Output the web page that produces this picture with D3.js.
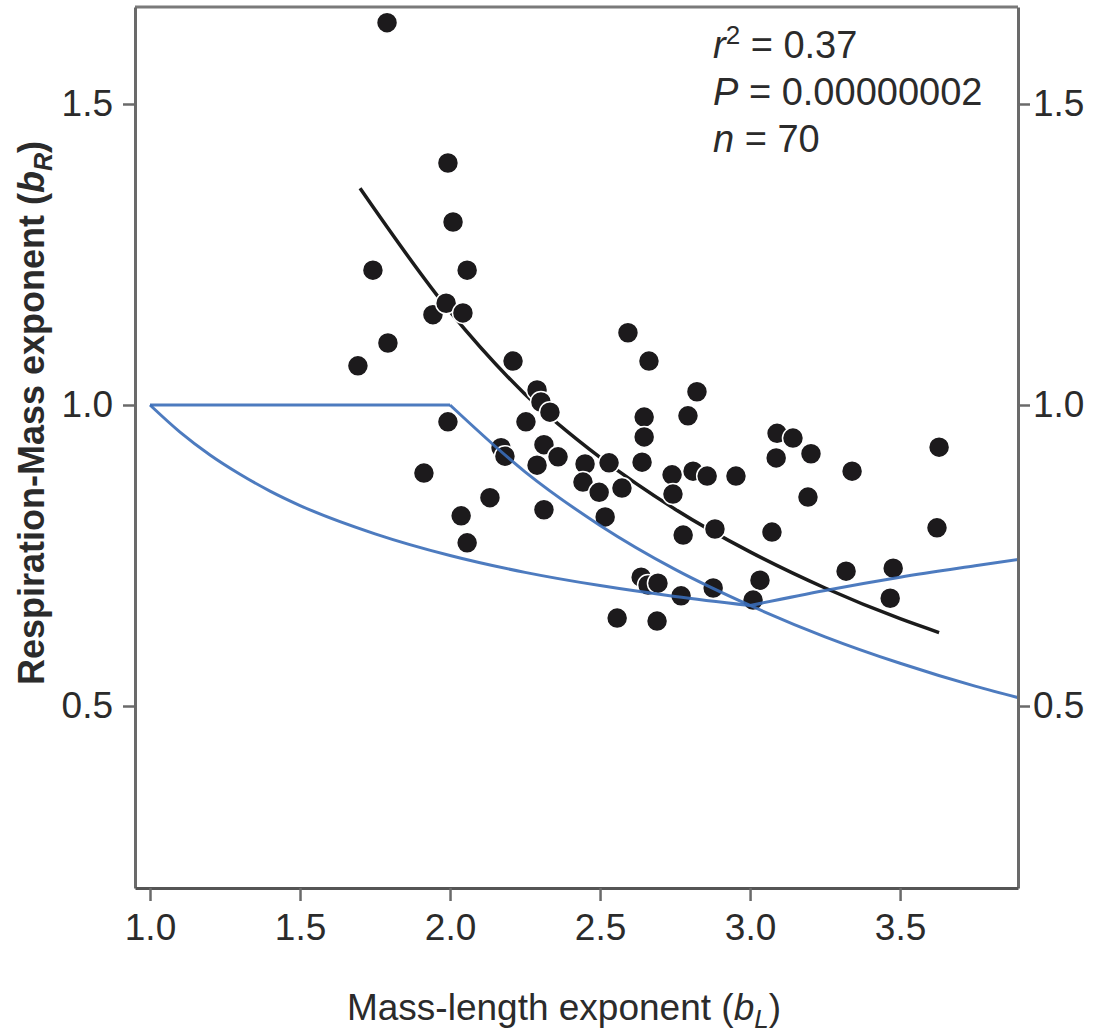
<!DOCTYPE html>
<html>
<head>
<meta charset="utf-8">
<script src="https://cdn.jsdelivr.net/npm/d3@7"></script>
<style>
body{margin:0;background:#fff;}
text{font-family:"Liberation Sans", Arial, sans-serif;fill:#2b2b2b;}
</style>
</head>
<body>
<div id="scatter"></div>
<script>
//Points: mass-length exponent (bL) vs respiration-mass exponent (bR)
var massLength = [1.790, 1.993, 2.010, 1.743, 2.057, 1.693, 1.793, 1.943, 1.987, 2.043,
    2.593, 2.663, 2.210, 2.290, 2.303, 2.333, 1.993, 2.253, 2.647, 2.647,
    2.793, 2.823, 2.170, 2.183, 2.313, 2.360, 2.290, 2.450, 2.530, 2.640,
    1.913, 2.443, 2.497, 2.573, 2.740, 2.743, 2.810, 2.857, 2.953, 2.133,
    2.037, 2.313, 2.517, 2.777, 2.883, 3.073, 2.057, 2.557, 2.690, 2.770,
    2.637, 2.660, 2.693, 2.877, 3.033, 3.010, 3.090, 3.143, 3.203, 3.087,
    3.340, 3.193, 3.630, 3.623, 3.320, 3.477, 3.467]
var respMass = [1.635, 1.402, 1.304, 1.224, 1.224, 1.065, 1.103, 1.150, 1.169, 1.153,
    1.120, 1.073, 1.073, 1.025, 1.005, 0.988, 0.972, 0.972, 0.980, 0.947,
    0.982, 1.022, 0.929, 0.915, 0.934, 0.914, 0.900, 0.902, 0.904, 0.905,
    0.887, 0.872, 0.855, 0.862, 0.884, 0.852, 0.890, 0.882, 0.882, 0.846,
    0.816, 0.826, 0.814, 0.784, 0.794, 0.789, 0.771, 0.646, 0.641, 0.683,
    0.714, 0.701, 0.704, 0.696, 0.709, 0.676, 0.953, 0.945, 0.919, 0.912,
    0.890, 0.847, 0.930, 0.796, 0.724, 0.729, 0.679]

//Fitted black line
var fitX = [1.70, 2.0, 2.25, 2.5, 2.75, 3.0, 3.25, 3.5, 3.63]
var fitY = [1.360, 1.155, 1.018, 0.913, 0.827, 0.756, 0.696, 0.645, 0.622]

//Blue model lines, split where they have a corner
var upperFlatX = [1.0, 2.0]
var upperFlatY = [1.0, 1.0]
var upperCurveX = [2.0, 2.25, 2.5, 2.75, 3.0, 3.25, 3.5, 3.75, 3.9]
var upperCurveY = [1.0, 0.889, 0.800, 0.727, 0.667, 0.615, 0.571, 0.533, 0.513]
var lowerCurveX = [1.0, 1.1, 1.2, 1.3, 1.4, 1.5, 1.75, 2.0, 2.25, 2.5, 2.75, 3.0]
var lowerCurveY = [1.0, 0.955, 0.917, 0.885, 0.857, 0.833, 0.786, 0.750, 0.722, 0.700, 0.682, 0.667]
var lowerRiseX = [3.0, 3.25, 3.5, 3.75, 3.9]
var lowerRiseY = [0.667, 0.692, 0.714, 0.733, 0.744]

var xTicks = [1.0, 1.5, 2.0, 2.5, 3.0, 3.5]
var yTicks = [0.5, 1.0, 1.5]

class scatterPlot{
    constructor(){
        this.svgDim = {width:1094, height:1033}
        this.box = {left:135, right:1018, top:7, bottom:888}
    }

    makeScales(){
        this.xScale = d3.scaleLinear()
            .domain([0.95, 3.893])
            .range([this.box.left, this.box.right])
        this.yScale = d3.scaleLinear()
            .domain([0.1977, 1.6611])
            .range([this.box.bottom, this.box.top])
    }

    drawFrame(svg){
        var b = this.box
        //top edge
        svg.append('line')
            .attr('x1', b.left).attr('x2', b.right)
            .attr('y1', b.top).attr('y2', b.top)
            .attr('stroke', '#7a7a7a').attr('stroke-width', 3)

        //Left axis
        var leftAxis = d3.axisLeft(this.yScale).tickValues(yTicks).tickSize(12).tickSizeOuter(0).tickPadding(10).tickFormat(d3.format('.1f'))
        var gl = svg.append('g').attr('transform', `translate(${b.left},0)`).call(leftAxis)
        //Right axis
        var rightAxis = d3.axisRight(this.yScale).tickValues(yTicks).tickSize(12).tickSizeOuter(0).tickPadding(3).tickFormat(d3.format('.1f'))
        var gr = svg.append('g').attr('transform', `translate(${b.right},0)`).call(rightAxis)
        //Bottom axis
        var bottomAxis = d3.axisBottom(this.xScale).tickValues(xTicks).tickSize(13).tickSizeOuter(0).tickPadding(12).tickFormat(d3.format('.1f'))
        var gb = svg.append('g').attr('transform', `translate(0,${b.bottom})`).call(bottomAxis)

        ;[gl, gr, gb].forEach(g => {
            g.select('.domain').attr('stroke', '#6a6a6a').attr('stroke-width', 3)
            g.selectAll('.tick line').attr('stroke', '#6a6a6a').attr('stroke-width', 2.5)
            g.selectAll('.tick text')
                .attr('font-size', 37)
                .attr('font-family', '"Liberation Sans", Arial, sans-serif')
                .attr('fill', '#2b2b2b')
        })
        gb.select('.domain').attr('stroke', '#555')
        gb.selectAll('.tick text').attr('dy', '0.72em')
    }

    drawData(svg){
        var xs = this.xScale, ys = this.yScale
        svg.append('defs').append('clipPath').attr('id', 'plotClip')
            .append('rect')
            .attr('x', this.box.left).attr('y', this.box.top)
            .attr('width', this.box.right - this.box.left)
            .attr('height', this.box.bottom - this.box.top)

        var line = d3.line()
            .x(d => xs(d[0]))
            .y(d => ys(d[1]))
            .curve(d3.curveMonotoneX)

        //fitted line under the points
        svg.append('path')
            .datum(d3.zip(fitX, fitY))
            .attr('d', line)
            .attr('fill', 'none')
            .attr('stroke', '#1b1b1b')
            .attr('stroke-width', 3.5)

        var pts = d3.zip(massLength, respMass)
        svg.append('g')
            .selectAll('circle')
            .data(pts)
            .join('circle')
            .attr('cx', d => xs(d[0]))
            .attr('cy', d => ys(d[1]))
            .attr('r', 10.5)
            .attr('fill', '#1c1a1c')
            .attr('stroke', '#fff')
            .attr('stroke-width', 1.5)

        //Blue model lines on top
        var blue = svg.append('g').attr('clip-path', 'url(#plotClip)')
        var segs = [[upperFlatX, upperFlatY], [upperCurveX, upperCurveY],
                    [lowerCurveX, lowerCurveY], [lowerRiseX, lowerRiseY]]
        segs.forEach(s => {
            blue.append('path')
                .datum(d3.zip(s[0], s[1]))
                .attr('d', line)
                .attr('fill', 'none')
                .attr('stroke', '#3a6db8')
                .attr('stroke-width', 3)
                .attr('stroke-opacity', 0.9)
        })
    }

    drawText(svg){
        //axis titles
        var xt = svg.append('text')
            .attr('x', 564).attr('y', 1020)
            .attr('text-anchor', 'middle')
            .attr('font-size', 37)
        xt.append('tspan').text('Mass-length exponent (')
        xt.append('tspan').attr('font-style', 'italic').text('b')
        xt.append('tspan').attr('font-style', 'italic').attr('font-size', 26).attr('dy', 8).text('L')
        xt.append('tspan').attr('dy', -8).text(')')

        var yt = svg.append('text')
            .attr('transform', 'translate(44,413) rotate(-90)')
            .attr('text-anchor', 'middle')
            .attr('font-size', 36)
            .attr('font-weight', 'bold')
        yt.append('tspan').text('Respiration-Mass exponent (')
        yt.append('tspan').attr('font-style', 'italic').text('b')
        yt.append('tspan').attr('font-style', 'italic').attr('font-size', 25).attr('dy', 8).text('R')
        yt.append('tspan').attr('dy', -8).text(')')

        //stats block
        var sx = 713
        var r2 = svg.append('text').attr('x', sx).attr('y', 58).attr('font-size', 38)
        r2.append('tspan').attr('font-style', 'italic').text('r')
        r2.append('tspan').attr('font-size', 26).attr('dy', -14).text('2')
        r2.append('tspan').attr('dy', 14).text(' = 0.37')

        var p = svg.append('text').attr('x', sx).attr('y', 105).attr('font-size', 38)
        p.append('tspan').attr('font-style', 'italic').text('P')
        p.append('tspan').text(' = 0.00000002')

        var n = svg.append('text').attr('x', sx).attr('y', 152).attr('font-size', 38)
        n.append('tspan').attr('font-style', 'italic').text('n')
        n.append('tspan').text(' = 70')
    }

    createPlot(){
        var svg = d3.select('#scatter')
            .append('svg')
            .attr('width', this.svgDim.width)
            .attr('height', this.svgDim.height)
        this.makeScales()
        this.drawData(svg)
        this.drawFrame(svg)
        this.drawText(svg)
    }
}

var plot = new scatterPlot()
plot.createPlot()
</script>
</body>
</html>
